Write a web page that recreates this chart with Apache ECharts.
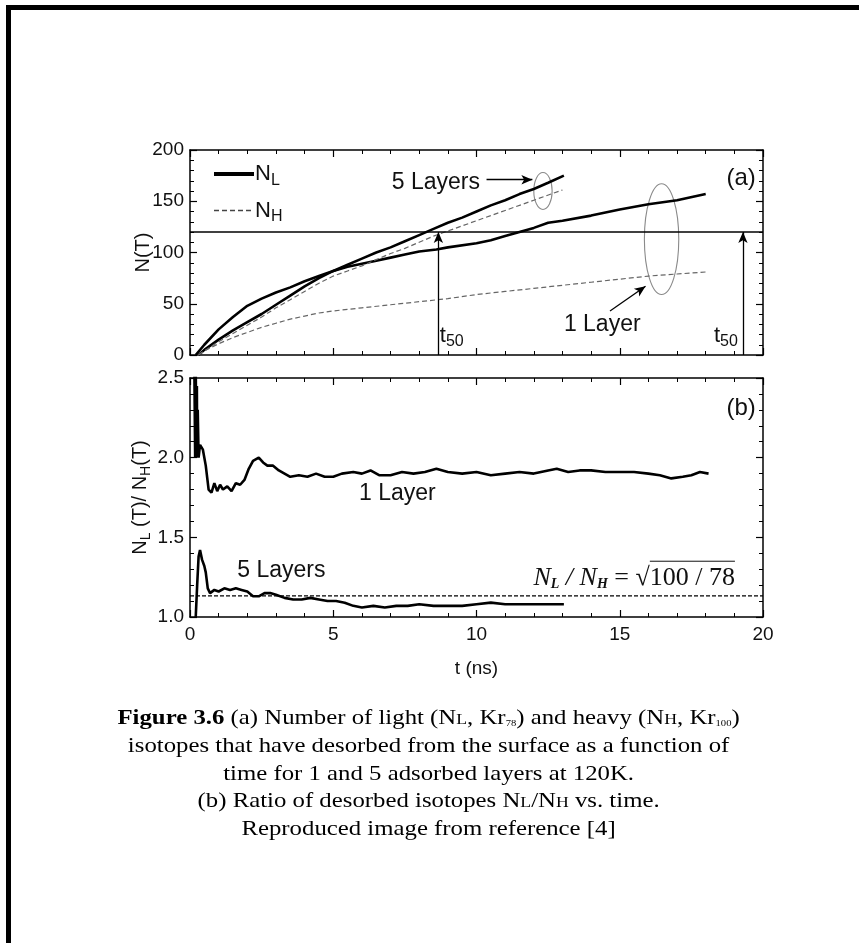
<!DOCTYPE html>
<html>
<head>
<meta charset="utf-8">
<script src="https://cdn.jsdelivr.net/npm/echarts@6/dist/echarts.min.js"></script>
<style>
  html, body { margin: 0; padding: 0; background: #fff; }
  #frame { position: absolute; left: 6px; top: 5px; width: 900px; height: 1000px;
           border-top: 5px solid #000; border-left: 5px solid #000; }
  #main { position: absolute; left: 0; top: 0; width: 859px; height: 943px; }
  #caption { position: absolute; left: 0; top: 704px; width: 857px; text-align: center;
             font-family: 'Liberation Serif', 'Times New Roman', serif; font-size: 21px;
             line-height: 27.8px; color: #000; transform: scaleX(1.18); transform-origin: 428px 0; }
  #caption div { height: 27.8px; white-space: nowrap; }
  .sc { font-size: 15px; line-height: 10px; }
  .tiny { font-size: 9px; line-height: 10px; vertical-align: -2px; }
</style>
</head>
<body>
<div id="frame"></div>
<div id="main"></div>
<div id="caption">
  <div><b>Figure 3.6</b> (a) Number of light (N<span class="sc">L</span>, Kr<span class="tiny">78</span>) and heavy (N<span class="sc">H</span>, Kr<span class="tiny">100</span>)</div>
  <div>isotopes that have desorbed from the surface as a function of</div>
  <div>time for 1 and 5 adsorbed layers at 120K.</div>
  <div>(b) Ratio of desorbed isotopes N<span class="sc">L</span>/N<span class="sc">H</span> vs. time.</div>
  <div>Reproduced image from reference [4]</div>
</div>
<script>
// panel (a): desorbed count N(T)
var tL1 = [0.2, 0.5, 1, 1.5, 2, 2.5, 3, 3.5, 4, 4.5, 5, 5.5, 6, 6.5, 7, 7.5, 8, 8.6, 9, 10, 10.5, 11, 11.5, 12, 12.5, 13, 14, 15, 16, 17, 18];
var nL1 = [0, 10, 25, 37, 48, 55, 61, 66, 72, 77, 82, 86, 89, 92, 95, 98, 101, 103, 105, 109, 112, 116, 120, 124, 129, 131, 136, 142, 147, 151, 157];
var tL5 = [0.3, 0.5, 1, 1.5, 2, 2.5, 3, 3.5, 4, 4.5, 5, 5.5, 6, 6.5, 7, 7.5, 8, 8.5, 9, 9.5, 10, 10.5, 11, 11.5, 12, 12.5, 13.05];
var nL5 = [0, 5, 15, 24, 32, 40, 49, 58, 67, 75, 82, 88, 94, 100, 105, 111, 117, 123, 129, 134, 140, 146, 151, 157, 162, 168, 175];
var tH5 = [0.3, 0.5, 1, 1.5, 2, 2.5, 3, 3.5, 4, 4.5, 5, 5.5, 6, 6.5, 7, 7.5, 8, 8.5, 9, 10, 11, 12, 13];
var nH5 = [0, 4, 13, 21, 29, 37, 46, 54, 62, 70, 77, 82, 87, 93, 99, 104, 110, 116, 121, 131, 141, 151, 161];
var tH1 = [0.3, 0.5, 1, 1.5, 2, 2.5, 3, 3.5, 4, 4.5, 5, 6, 7, 8, 9, 10, 11, 12, 13, 14, 15, 16, 17, 18];
var nH1 = [0, 4, 11, 17, 22, 27, 31, 35, 38, 41, 43, 46, 49, 52, 55, 59, 62, 65, 68, 71, 74, 77, 79, 81];
var t50 = [8.67, 19.3];
var nHalf = 120;

// panel (b): ratio NL/NH
var tR1 = [0.15, 0.18, 0.2, 0.22, 0.24, 0.25, 0.27, 0.3, 0.35, 0.45, 0.55, 0.65, 0.75, 0.85, 0.95, 1.05, 1.15, 1.3, 1.45, 1.6, 1.75, 1.9, 2.05, 2.2, 2.4, 2.55, 2.7, 2.9, 3.1, 3.3, 3.5, 3.8, 4.1, 4.4, 4.7, 5.0, 5.3, 5.7, 6.0, 6.3, 6.6, 7.0, 7.4, 7.8, 8.2, 8.6, 9.0, 9.5, 10.0, 10.5, 11.0, 11.5, 12.0, 12.5, 12.8, 13.2, 13.6, 14.0, 14.5, 15.0, 15.5, 16.0, 16.4, 16.8, 17.2, 17.5, 17.8, 18.1];
var rR1 = [2.6, 2.0, 2.6, 2.0, 2.45, 2.0, 2.3, 2.0, 2.08, 2.05, 1.95, 1.8, 1.78, 1.84, 1.79, 1.83, 1.80, 1.82, 1.79, 1.84, 1.83, 1.86, 1.93, 1.98, 2.0, 1.97, 1.95, 1.95, 1.92, 1.90, 1.88, 1.89, 1.88, 1.90, 1.88, 1.88, 1.90, 1.91, 1.90, 1.92, 1.89, 1.89, 1.91, 1.90, 1.91, 1.93, 1.91, 1.90, 1.91, 1.89, 1.90, 1.91, 1.90, 1.92, 1.93, 1.91, 1.92, 1.92, 1.91, 1.91, 1.91, 1.90, 1.89, 1.87, 1.88, 1.89, 1.91, 1.90];
var tR5 = [0.2, 0.25, 0.3, 0.35, 0.42, 0.5, 0.55, 0.62, 0.7, 0.85, 1.0, 1.2, 1.4, 1.6, 1.8, 2.0, 2.2, 2.4, 2.6, 2.8, 3.0, 3.3, 3.6, 3.9, 4.2, 4.5, 4.8, 5.1, 5.4, 5.7, 6.0, 6.4, 6.8, 7.2, 7.6, 8.0, 8.5, 9.0, 9.5, 10.0, 10.5, 11.0, 11.5, 12.0, 12.5, 13.05];
var rR5 = [1.0, 1.2, 1.38, 1.42, 1.36, 1.32, 1.28, 1.18, 1.15, 1.17, 1.16, 1.18, 1.17, 1.18, 1.17, 1.16, 1.13, 1.13, 1.15, 1.15, 1.14, 1.12, 1.11, 1.11, 1.12, 1.11, 1.10, 1.10, 1.09, 1.07, 1.06, 1.07, 1.06, 1.07, 1.07, 1.08, 1.07, 1.07, 1.07, 1.08, 1.09, 1.08, 1.08, 1.08, 1.08, 1.08];
var ratioTheory = Math.sqrt(100 / 78);

function zip(t, v) {
  return t.map(function (x, i) { return [x, v[i]]; });
}

var font = 'Liberation Sans, Arial, sans-serif';
var subRich = {
  n: { fontFamily: font, fontSize: 22, color: '#111' },
  s: { fontFamily: font, fontSize: 16, color: '#111', padding: [13, 0, 0, 0] }
};
var nameRich = {
  n: { fontFamily: font, fontSize: 20, color: '#111' },
  s: { fontFamily: font, fontSize: 14, color: '#111', padding: [12, 0, 0, 0] }
};

function xAx(grid, pos, labels) {
  return {
    type: 'value', gridIndex: grid, position: pos, min: 0, max: 20, interval: 5,
    axisLine: { show: true, onZero: false, lineStyle: { color: '#000', width: 1.5 } },
    axisTick: { show: true, inside: true, length: 7, lineStyle: { color: '#000', width: 1.2 } },
    minorTick: { show: true, splitNumber: 5, length: 4, lineStyle: { color: '#000', width: 1 } },
    splitLine: { show: false },
    axisLabel: { show: labels, color: '#111', fontFamily: font, fontSize: 19, margin: 8 },
    name: labels ? 't (ns)' : '', nameLocation: 'middle', nameGap: 42,
    nameTextStyle: { color: '#111', fontFamily: font, fontSize: 19 }
  };
}
function yAx(grid, pos, min, max, interval, labels, fmt, name) {
  return {
    type: 'value', gridIndex: grid, position: pos, min: min, max: max, interval: interval,
    axisLine: { show: true, onZero: false, lineStyle: { color: '#000', width: 1.5 } },
    axisTick: { show: true, inside: true, length: 7, lineStyle: { color: '#000', width: 1.2 } },
    minorTick: { show: true, splitNumber: 5, length: 4, lineStyle: { color: '#000', width: 1 } },
    splitLine: { show: false },
    axisLabel: { show: labels, color: '#111', fontFamily: font, fontSize: 19, margin: 6, formatter: fmt },
    name: name || '', nameLocation: 'middle', nameRotate: 90, nameGap: 37, nameMoveOverlap: false,
    nameTextStyle: { color: '#111', fontFamily: font, fontSize: 20, rich: nameRich }
  };
}

var chart = echarts.init(document.getElementById('main'), null, { renderer: 'canvas' });

var option = {
  animation: false,
  backgroundColor: 'transparent',
  grid: [
    { left: 190, top: 150, width: 573, height: 205 },
    { left: 190, top: 378, width: 573, height: 239 }
  ],
  xAxis: [xAx(0, 'bottom', false), xAx(0, 'top', false), xAx(1, 'bottom', true), xAx(1, 'top', false)],
  yAxis: [
    yAx(0, 'left', 0, 200, 50, true, null, 'N(T)'),
    yAx(0, 'right', 0, 200, 50, false),
    yAx(1, 'left', 1, 2.5, 0.5, true, function (v) { return v.toFixed(1); },
        '{n|N}{s|L}{n| (T)/ N}{s|H}{n|(T)}'),
    yAx(1, 'right', 1, 2.5, 0.5, false)
  ],
  legend: {
    orient: 'vertical', left: 207, top: 158, itemWidth: 40, itemHeight: 12, itemGap: 11,
    data: [
      { name: 'NL', lineStyle: { width: 4, color: '#000' } },
      { name: 'NH', lineStyle: { width: 1.3, color: '#444' } }
    ],
    itemStyle: { opacity: 0 },
    formatter: function (n) { return '{n|N}{s|' + n.charAt(1) + '}'; },
    textStyle: { rich: subRich, padding: [0, 0, 0, -4] }
  },
  series: [
    { name: 'NL', type: 'line', xAxisIndex: 0, yAxisIndex: 0, data: zip(tL1, nL1), symbol: 'none',
      lineStyle: { color: '#000', width: 2.6 }, itemStyle: { color: '#000' } },
    { name: 'NL', type: 'line', xAxisIndex: 0, yAxisIndex: 0, data: zip(tL5, nL5), symbol: 'none',
      lineStyle: { color: '#000', width: 2.6 }, itemStyle: { color: '#000' } },
    { name: 'NH', type: 'line', xAxisIndex: 0, yAxisIndex: 0, data: zip(tH1, nH1), symbol: 'none',
      lineStyle: { color: '#666', width: 1.2, type: [5, 3] }, itemStyle: { color: '#666' } },
    { name: 'NH', type: 'line', xAxisIndex: 0, yAxisIndex: 0, data: zip(tH5, nH5), symbol: 'none',
      lineStyle: { color: '#666', width: 1.2, type: [5, 3] }, itemStyle: { color: '#666' } },
    { name: 'half', type: 'line', xAxisIndex: 0, yAxisIndex: 0, data: [[0, nHalf], [20, nHalf]], symbol: 'none',
      lineStyle: { color: '#000', width: 1.3 }, silent: true,
      markLine: {
        silent: true, symbol: ['none', 'arrow'], symbolSize: [7, 11], label: { show: false },
        lineStyle: { color: '#000', width: 1.3, type: 'solid' },
        data: [
          [{ coord: [t50[0], 0] }, { coord: [t50[0], nHalf] }],
          [{ coord: [t50[1], 0] }, { coord: [t50[1], nHalf] }],
          [{ coord: [10.35, 171] }, { coord: [11.95, 171] }],
          [{ coord: [14.66, 43] }, { coord: [15.9, 67] }]
        ]
      } },
    { name: 'r1', type: 'line', xAxisIndex: 2, yAxisIndex: 2, data: zip(tR1, rR1), symbol: 'none',
      lineStyle: { color: '#000', width: 2.6 } },
    { name: 'r5', type: 'line', xAxisIndex: 2, yAxisIndex: 2, data: zip(tR5, rR5), symbol: 'none',
      lineStyle: { color: '#000', width: 2.6 } },
    { name: 'theory', type: 'line', xAxisIndex: 2, yAxisIndex: 2, data: [[0, ratioTheory], [20, ratioTheory]],
      symbol: 'none', silent: true, lineStyle: { color: '#000', width: 1.2, type: [4, 2] } }
  ]
};
chart.setOption(option);

// annotations placed through the axes
function pa(p) { return chart.convertToPixel({ xAxisIndex: 0, yAxisIndex: 0 }, p); }
function pb(p) { return chart.convertToPixel({ xAxisIndex: 2, yAxisIndex: 2 }, p); }
function ell(c, hw, hh) {
  var o = pa(c), e = pa([c[0] + hw, c[1] + hh]);
  return { type: 'ellipse', shape: { cx: o[0], cy: o[1], rx: Math.abs(e[0] - o[0]), ry: Math.abs(o[1] - e[1]) },
           style: { fill: null, stroke: '#8a8a8a', lineWidth: 1.1 }, silent: true };
}
function txt(p, str, align, size, extra) {
  var st = { text: str, x: p[0], y: p[1], align: align, verticalAlign: 'middle', fill: '#111',
             font: (size || 23) + 'px ' + font, rich: subRich };
  if (extra) for (var k in extra) st[k] = extra[k];
  return { type: 'text', style: st, silent: true };
}
var g = [
  ell([12.32, 160], 0.32, 18),
  ell([16.46, 113], 0.6, 54),
  txt(pa([10.12, 168]), '5 Layers', 'right'),
  txt(pa([13.05, 30]), '1 Layer', 'left'),
  txt(pa([8.72, 19]), '{n|t}{s|50}', 'left'),
  txt(pa([19.12, 19]), '{n|t}{s|50}', 'right'),
  txt(pa([19.75, 172]), '(a)', 'right', 24),
  txt(pb([19.75, 2.31]), '(b)', 'right', 24),
  txt(pb([5.9, 1.775]), '1 Layer', 'left'),
  txt(pb([1.65, 1.29]), '5 Layers', 'left'),
  txt(pb([19.02, 1.245]), '', 'right', 23, {
    text: '{i|N}{is|L}{i| / N}{is|H}{r| = \u221A}{o|100 / 78}',
    rich: {
      i: { font: 'italic 26px "Liberation Serif", serif', fill: '#111' },
      is: { font: 'italic bold 14px "Liberation Serif", serif', fill: '#111', padding: [12, 0, 0, 0] },
      r: { font: '26px "Liberation Serif", serif', fill: '#111' },
      o: { font: '26px "Liberation Serif", serif', fill: '#111' }
    }
  })
];
// overline of the square root
(function () {
  var a = pb([16.05, 1.35]), b = pb([19.02, 1.35]);
  g.push({ type: 'line', shape: { x1: a[0], y1: a[1], x2: b[0], y2: b[1] }, style: { stroke: '#111', lineWidth: 1 }, silent: true });
})();
chart.setOption({ graphic: g });
</script>
</body>
</html>
